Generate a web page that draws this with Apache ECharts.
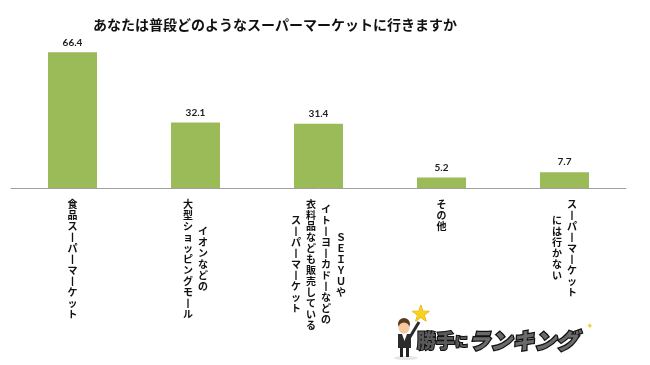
<!DOCTYPE html>
<html><head><meta charset="utf-8">
<script src="https://cdn.jsdelivr.net/npm/echarts@6/dist/echarts.min.js"></script>
<style>html,body{margin:0;padding:0;background:#fff}#c{width:650px;height:365px}</style>
</head><body><div id="c"></div>
<script>
const titleText = 'あなたは普段どのようなスーパーマーケットに行きますか';
// Each category label is written vertically; first entry is the rightmost column
const categoryLines = [
  ['食品スーパーマーケット'],
  ['イオンなどの', '大型ショッピングモール'],
  ['ＳＥＩＹＵや', 'イトーヨーカドーなどの', '衣料品なども販売している', 'スーパーマーケット'],
  ['その他'],
  ['スーパーマーケット', 'には行かない']
];
const categories = categoryLines.map(l => l.join(''));
const values = [66.4, 32.1, 31.4, 5.2, 7.7];
const yMax = 70;

function verticalLabel(cols) {
  const disp = cols.slice().reverse().map(s => Array.from(s.replace(/ー/g, '丨')));
  const maxLen = Math.max(...disp.map(c => c.length));
  const lines = [];
  for (let r = 0; r < 2 * maxLen - 1; r++) {
    let line = '';
    for (const c of disp) {
      const off = maxLen - c.length;
      const k = r - off;
      if (k >= 0 && k % 2 === 0 && k / 2 < c.length) line += '{v|' + c[k / 2] + '}';
      else line += '{e|　}';
    }
    lines.push(line);
  }
  return lines.join('\n');
}

const chart = echarts.init(document.getElementById('c'), null, {renderer: 'canvas'});
const jp = 'Noto Sans CJK JP';
chart.setOption({
  backgroundColor: '#fff',
  animation: false,
  title: {
    text: titleText, left: 88, top: 12,
    textStyle: {fontFamily: jp, fontSize: 14, fontWeight: 'bold', color: '#111', lineHeight: 16}
  },
  grid: {left: 11, right: 24, top: 45, bottom: 177},
  xAxis: {
    type: 'category', data: categories,
    axisLine: {lineStyle: {color: '#a0a0a0', width: 1}},
    axisTick: {show: false},
    axisLabel: {
      interval: 0, margin: 13, verticalAlign: 'top', align: 'center',
      formatter: (v, i) => verticalLabel(categoryLines[i]),
      rich: {
        v: {fontFamily: jp, fontSize: 10, fontWeight: 'bold', color: '#111', width: 15, align: 'center', lineHeight: 5.5},
        e: {fontFamily: jp, fontSize: 10, width: 15, align: 'center', lineHeight: 5.5}
      }
    }
  },
  yAxis: {type: 'value', min: 0, max: yMax, show: false, splitLine: {show: false}},
  series: [{
    type: 'bar', data: values, barWidth: 49,
    itemStyle: {color: '#9BBB59'},
    label: {show: true, position: 'top', distance: 5, fontFamily: 'Lato', fontWeight: 'bold', fontSize: 10, color: '#222'}
  }],
  graphic: [
    {type: 'ellipse', shape: {cx: 406, cy: 358, rx: 12, ry: 2}, style: {fill: '#e6e6e6'}},
    {type: 'line', shape: {x1: 410, y1: 337, x2: 419, y2: 322}, style: {stroke: '#2b2b2b', lineWidth: 3}},
    {type: 'text', x: 411, y: 304, style: {text: '★', fontSize: 22, fill: '#F7D21E', stroke: '#E2A600', lineWidth: 1}},
    {type: 'circle', shape: {cx: 404, cy: 324, r: 6}, style: {fill: '#5a3a1e'}},
    {type: 'circle', shape: {cx: 404, cy: 328, r: 5.5}, style: {fill: '#F4C9A0'}},
    {type: 'rect', shape: {x: 398, y: 334, width: 13, height: 14}, style: {fill: '#2b2b2b'}},
    {type: 'polygon', shape: {points: [[402, 334], [407, 334], [404.5, 341]]}, style: {fill: '#fff'}},
    {type: 'rect', shape: {x: 400, y: 348, width: 3, height: 9}, style: {fill: '#222'}},
    {type: 'rect', shape: {x: 406, y: 348, width: 3, height: 9}, style: {fill: '#222'}},
    {type: 'text', x: 417, y: 330, style: {
      text: '{a|勝手}{b|に}{c|ランキング}',
      rich: {
        a: {fontFamily: jp, fontWeight: 900, fontSize: 19, fill: '#5a5a5a', stroke: '#111', lineWidth: 2},
        b: {fontFamily: jp, fontWeight: 900, fontSize: 13, fill: '#5a5a5a', stroke: '#111', lineWidth: 2},
        c: {fontFamily: jp, fontWeight: 900, fontSize: 22, fontStyle: 'italic', fill: '#6a6a6a', stroke: '#111', lineWidth: 2.5}
      }
    }},
    {type: 'text', x: 586, y: 322, style: {text: '✦', fontSize: 9, fill: '#F2D13A'}}
  ]
});
</script></body></html>
